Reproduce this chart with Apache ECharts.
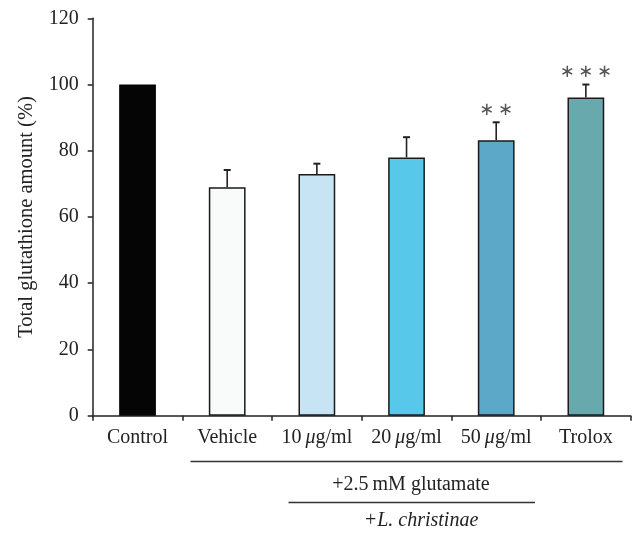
<!DOCTYPE html>
<html>
<head>
<meta charset="utf-8">
<script src="https://cdn.jsdelivr.net/npm/echarts@6/dist/echarts.min.js"></script>
<style>html,body{margin:0;padding:0;background:#fff}#c{width:636px;height:535px}</style>
</head>
<body>
<div id="c"></div>
<script>
const categories = ['Control', 'Vehicle', '10\u2009μg/ml', '20\u2009μg/ml', '50\u2009μg/ml', 'Trolox'];
const means = [100, 69, 73, 78, 83.2, 96.1];
const errors = [0, 5.2, 3.1, 6.1, 5.4, 3.9];
const significance = ['', '', '', '', '\u2217\u2009\u2217', '\u2217\u2009\u2217\u2009\u2217'];
const barColors = ['#050505', '#f8fbfa', '#c6e4f3', '#58c8ea', '#5ca8c8', '#67a9ad'];
const yTicks = [0, 20, 40, 60, 80, 100, 120];
const groupLabel1 = '+2.5\u2009mM glutamate';
const groupLabel2 = '+L. christinae';

const FONT = 'Liberation Serif';
const chart = echarts.init(document.getElementById('c'), null, {renderer: 'canvas'});

const errData = means.map((m, i) => [i, m, m + errors[i]]);

chart.setOption({
  animation: false,
  backgroundColor: '#fff',
  grid: {left: 92.7, right: 5.3, top: 18.3, bottom: 119.3},
  xAxis: {
    type: 'category',
    data: categories,
    axisLine: {lineStyle: {color: '#222', width: 1.5}},
    axisTick: {show: true, interval: 0, length: 5, lineStyle: {color: '#222', width: 1.5}},
    axisLabel: {
      interval: 0, hideOverlap: false,
      color: '#222', fontFamily: FONT, fontSize: 20, margin: 12,
      formatter: function (v) {
        if (v.indexOf('μ') < 0) return '{a|' + v + '}';
        const p = v.split('μ');
        return '{a|' + p[0] + '}{m|μ}{a|' + p[1] + '}';
      },
      rich: {
        a: {fontFamily: FONT, fontSize: 20, color: '#222'},
        m: {fontFamily: FONT, fontSize: 20, color: '#222', fontStyle: 'italic'}
      }
    }
  },
  yAxis: {
    type: 'value',
    min: yTicks[0], max: yTicks[yTicks.length - 1], interval: 20,
    name: 'Total glutathione amount (%)',
    nameLocation: 'middle', nameGap: 56,
    nameTextStyle: {color: '#222', fontFamily: FONT, fontSize: 20.5},
    splitLine: {show: false},
    axisLine: {show: true, lineStyle: {color: '#222', width: 1.5}},
    axisTick: {show: true, length: 5, lineStyle: {color: '#222', width: 1.5}},
    axisLabel: {color: '#222', fontFamily: FONT, fontSize: 20, margin: 14}
  },
  series: [
    {
      type: 'bar',
      barWidth: '41%',
      data: means.map((v, i) => ({
        value: v,
        itemStyle: {color: barColors[i], borderColor: '#1a1a1a', borderWidth: i === 0 ? 0 : 1.5}
      })),
      z: 2
    },
    {
      type: 'custom',
      data: errData,
      z: 3,
      renderItem: function (params, api) {
        const x = api.coord([api.value(0), api.value(1)]);
        const top = api.coord([api.value(0), api.value(2)]);
        const children = [];
        if (api.value(2) > api.value(1)) {
          children.push({type: 'line', shape: {x1: x[0], y1: x[1], x2: top[0], y2: top[1]}, style: {stroke: '#222', lineWidth: 1.6}});
          children.push({type: 'line', shape: {x1: top[0] - 3.5, y1: top[1], x2: top[0] + 3.5, y2: top[1]}, style: {stroke: '#222', lineWidth: 2}});
        }
        const sig = significance[params.dataIndex];
        if (sig) {
          children.push({type: 'text', style: {text: sig, x: top[0], y: top[1] - 12, align: 'center', verticalAlign: 'middle', fill: '#555', font: '18px DejaVu Sans'}});
        }
        return {type: 'group', children: children};
      }
    }
  ],
  graphic: [
    {type: 'line', shape: {x1: 190.5, y1: 461.5, x2: 622.5, y2: 461.5}, style: {stroke: '#333', lineWidth: 1.5}},
    {type: 'text', style: {text: groupLabel1, x: 411, y: 485, align: 'center', verticalAlign: 'middle', fill: '#222', font: '20px ' + FONT}},
    {type: 'line', shape: {x1: 288.5, y1: 502.5, x2: 535, y2: 502.5}, style: {stroke: '#333', lineWidth: 1.5}},
    {type: 'text', style: {text: groupLabel2, x: 421, y: 521, align: 'center', verticalAlign: 'middle', fill: '#222', font: 'italic 20px ' + FONT}}
  ]
});
</script>
</body>
</html>
